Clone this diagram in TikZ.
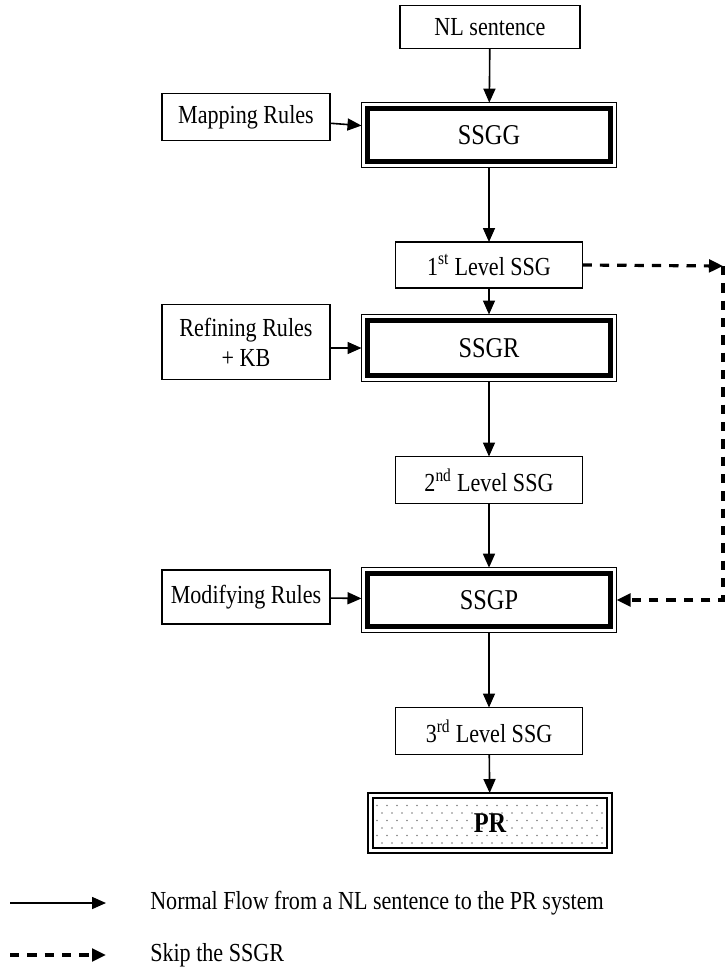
\documentclass[tikz,border=0pt]{standalone}
\usepackage{fontspec}
\setmainfont[FakeStretch=0.85]{Liberation Serif}
\usetikzlibrary{arrows.meta}
\pgfdeclarelayer{bg}
\pgfsetlayers{bg,main}
\begin{document}
\begin{tikzpicture}[x=0.75pt,y=-0.75pt,
  font=\fontsize{19.5}{22.5}\selectfont,
  box/.style={draw, line width=0.9pt, inner sep=0pt, outer sep=0pt, align=center},
  proc/.style={box, minimum width=191.25pt, minimum height=48.5pt, font=\fontsize{21.5}{24}\selectfont},
  flow/.style={line width=1.2pt, -{Triangle[length=10.5pt,width=9pt]}},
  skip/.style={line width=2.4pt, dash pattern=on 7pt off 6pt, -{Triangle[length=10.5pt,width=9.5pt]}}
]
\useasboundingbox (0,0) rectangle (728,979);
% data boxes
\node[box, minimum width=135pt, minimum height=32.25pt] (nl) at (490,27) {NL sentence};
\node[box, minimum width=126pt, minimum height=35.25pt] (map) at (246,117) {Mapping Rules};
\node[box, minimum width=140.25pt, minimum height=34.5pt] (l1) at (489,265) {1\textsuperscript{st} Level SSG};
\node[box, minimum width=126pt, minimum height=56.25pt] (ref) at (246,342) {Refining Rules\\+ KB};
\node[box, minimum width=140.25pt, minimum height=35.25pt] (l2) at (489,480) {2\textsuperscript{nd} Level SSG};
\node[box, minimum width=126pt, minimum height=40.5pt] (mod) at (246,597) {Modifying Rules};
\node[box, minimum width=140.25pt, minimum height=35.25pt] (l3) at (489,731) {3\textsuperscript{rd} Level SSG};
% process boxes
\node[proc] (ssgg) at (489,135) {SSGG};
\node[proc, minimum height=50.25pt] (ssgr) at (489,348) {SSGR};
\node[proc] (ssgp) at (489,600) {SSGP};
\node[box, minimum width=183pt, minimum height=45pt, font=\fontsize{21.5}{24}\selectfont\bfseries] (pr) at (490,823) {PR};
% inner thick borders
\foreach \n in {ssgg,ssgr,ssgp}
  \draw[line width=3.6pt] ([xshift=4.4pt,yshift=-4.4pt]\n.north west) rectangle ([xshift=-4.4pt,yshift=4.4pt]\n.south east);
\draw[line width=1.4pt] ([xshift=3.6pt,yshift=-3.6pt]pr.north west) rectangle ([xshift=-3.6pt,yshift=3.6pt]pr.south east);
% dotted fill of PR
\begin{pgfonlayer}{bg}
  \begin{scope}
    \clip ([xshift=3.6pt,yshift=-3.6pt]pr.north west) rectangle ([xshift=-3.6pt,yshift=3.6pt]pr.south east);
    \foreach \r in {0,...,7} {
      \foreach \c in {0,...,24} {
        \pgfmathsetmacro{\xx}{372+\c*10+mod(\r,2)*5}
        \pgfmathsetmacro{\yy}{798+\r*7.5}
        \fill[gray] (\xx,\yy) circle (0.65pt);
      }
    }
  \end{scope}
\end{pgfonlayer}
% normal flow
\draw[flow] (nl) -- (ssgg);
\draw[flow] (map) -- (ssgg);
\draw[flow] (ssgg) -- (l1);
\draw[flow] (l1) -- (ssgr);
\draw[flow] (ref.east |- ssgr) -- (ssgr);
\draw[flow] (ssgr) -- (l2);
\draw[flow] (l2) -- (ssgp);
\draw[flow] (mod) -- (ssgp);
\draw[flow] (ssgp) -- (l3);
\draw[flow] (l3) -- (pr);
% skip path
\coordinate (c1) at (723,266);
\draw[skip] (l1.east) -- (c1);
\draw[skip] (c1) |- (ssgp.east);
% legend
\coordinate (a1) at (10,903);
\coordinate (b1) at (106,903);
\coordinate (a2) at (10,955);
\coordinate (b2) at (106,955);
\draw[flow] (a1) -- (b1);
\draw[skip] (a2) -- (b2);
\node[anchor=west, inner sep=0pt] (t1) at (150,903) {Normal Flow from a NL sentence to the PR system};
\node[anchor=west, inner sep=0pt] (t2) at (150,955) {Skip the SSGR};
\end{tikzpicture}
\end{document}
